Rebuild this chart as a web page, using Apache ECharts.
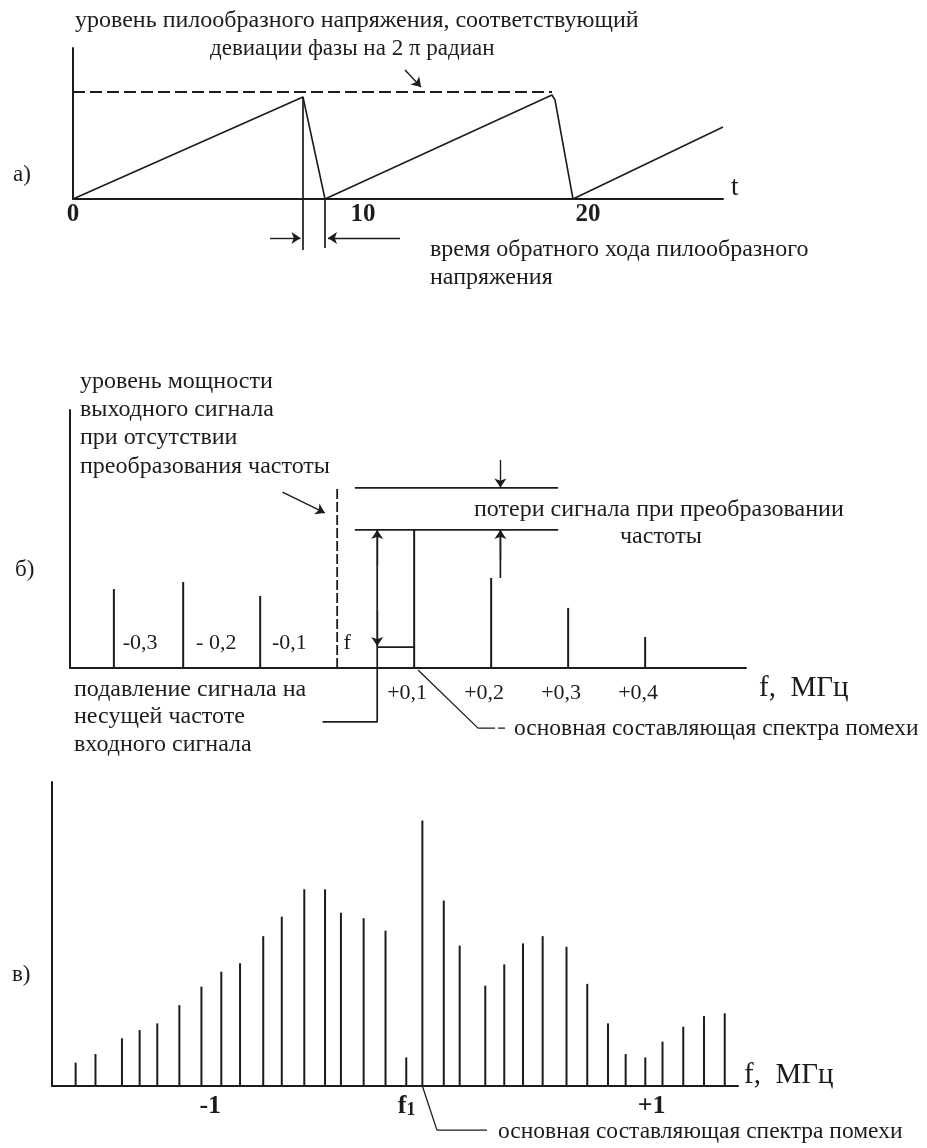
<!DOCTYPE html>
<html><head><meta charset="utf-8">
<script src="https://cdn.jsdelivr.net/npm/echarts@6/dist/echarts.min.js"></script>
<style>html,body{margin:0;padding:0;background:#fff}#c{width:927px;height:1148px}</style>
</head><body><div id="c"></div>
<script>
// ---- Panel а: sawtooth (t, level relative to 2π deviation) ----
const sawT = [0, 9.2, 10.08, 19.16, 19.28, 20.0, 26];
const sawV = [0, 0.953, 0, 0.972, 0.925, 0, 0.673];
const levelA = 1.0;
const tickA = ['0', '10', '20'];
const tickAPos = [0, 11.6, 20.6];

// ---- Panel б: spectrum with conversion (MHz offset, relative power) ----
const specBx = [-0.29, -0.2, -0.1, 0.1, 0.2, 0.3, 0.4];
const specBy = [0.306, 0.333, 0.279, 0.535, 0.349, 0.233, 0.120];
const refB = 0.698;      // output power without frequency conversion
const carrierB = 0.081;  // suppressed carrier level
const tickB = ['+0,1', '+0,2', '+0,3', '+0,4'];
const tickBPos = [0.1, 0.2, 0.3, 0.4];
const innerB = ['-0,3', '- 0,2', '-0,1', 'f'];
const innerBPos = [-0.256, -0.157, -0.062, 0.013];

// ---- Panel в: interference spectrum (MHz, relative power) ----
const specCx = [-1.61, -1.52, -1.40, -1.32, -1.24, -1.14, -1.04, -0.95, -0.865, -0.76, -0.676,
  -0.574, -0.48, -0.408, -0.305, -0.206, -0.112, -0.039, 0.058, 0.13, 0.246, 0.332, 0.417,
  0.506, 0.614, 0.708, 0.802, 0.882, 0.971, 1.049, 1.143, 1.237, 1.331];
const specCy = [0.077, 0.105, 0.157, 0.184, 0.206, 0.266, 0.327, 0.376, 0.404, 0.493, 0.557,
  0.647, 0.647, 0.570, 0.552, 0.511, 0.094, 0.873, 0.610, 0.462, 0.330, 0.400, 0.469,
  0.493, 0.458, 0.336, 0.206, 0.105, 0.094, 0.146, 0.195, 0.230, 0.239];
const tickC = ['-1', 'f1', '+1'];
const tickCPos = [-1, -0.11, 1];

const INK = '#1c1c1c';
const FONT = '"Liberation Serif", "DejaVu Serif", serif';

// annotation geometry (in each panel's data units)
const annA = {
  vLeft:  [[9.2, 0.953], [9.2, -0.477]],
  vRight: [[10.08, 0], [10.08, -0.458]],
  arrL:   [[7.88, -0.364], [9.1, -0.364]],
  arrR:   [[13.08, -0.364], [10.2, -0.364]],
  arrLvl: [[13.28, 1.206], [13.92, 1.047]]
};
const annB = {
  topH:   [[0.023, refB], [0.287, refB]],
  lowH:   [[0.023, 0.535], [0.287, 0.535]],
  dimSup: [[0.052, 0.535], [0.052, -0.209], [-0.019, -0.209]],
  stub:   [[0.052, carrierB], [0.1, carrierB]],
  leader: [[0.105, -0.008], [0.183, -0.233], [0.205, -0.233]],
  dash:   [[0.209, -0.233], [0.218, -0.233]],
  lossSeg:[[0.212, 0.535], [0.212, 0.349]],
  arrows: [
    [[0.052, 0.40], [0.052, 0.535]],
    [[0.052, 0.22], [0.052, 0.085]],
    [[0.212, 0.806], [0.212, 0.700]],
    [[0.212, 0.42], [0.212, 0.535]],
    [[-0.071, 0.682], [-0.016, 0.601]]
  ]
};
const annC = {
  leader: [[-0.039, 0], [0.027, -0.145], [0.254, -0.145]]
};

function seg(pts, gi, opts) {
  return Object.assign({
    type: 'line', xAxisIndex: gi, yAxisIndex: gi, data: pts, symbol: 'none',
    clip: false, silent: true, animation: false,
    lineStyle: { color: INK, width: 1.7 }
  }, opts || {});
}
function arrows(list, gi) {
  return {
    type: 'lines', coordinateSystem: 'cartesian2d', xAxisIndex: gi, yAxisIndex: gi,
    clip: false, silent: true, animation: false,
    symbol: ['none', 'arrow'], symbolSize: 9,
    lineStyle: { color: INK, width: 1.4, opacity: 1 },
    data: list.map(c => ({ coords: c }))
  };
}
function xAx(gi, min, max, pos, labels, lbl) {
  return {
    type: 'value', gridIndex: gi, min: min, max: max,
    axisLine: { show: true, onZero: false, lineStyle: { color: INK, width: 2 } },
    axisTick: { show: false }, splitLine: { show: false },
    axisLabel: Object.assign({
      show: true, customValues: pos, color: INK, fontFamily: FONT,
      formatter: v => { const i = pos.findIndex(p => Math.abs(p - v) < 1e-6); return i >= 0 ? labels[i] : ''; }
    }, lbl)
  };
}
function yAx(gi, max) {
  return {
    type: 'value', gridIndex: gi, min: 0, max: max,
    axisLine: { show: true, onZero: false, lineStyle: { color: INK, width: 2 } },
    axisTick: { show: false }, splitLine: { show: false }, axisLabel: { show: false }
  };
}

const texts = [
  ['уровень пилообразного напряжения, соответствующий', 75, 21, 24],
  ['девиации фазы на 2 π радиан', 210, 49, 23],
  ['а)', 13, 175, 23],
  ['t', 731, 188, 27],
  ['время обратного хода пилообразного', 430, 250, 24],
  ['напряжения', 430, 278, 24],
  ['уровень мощности', 80, 382, 24],
  ['выходного сигнала', 80, 410, 24],
  ['при отсутствии', 80, 438, 24],
  ['преобразования частоты', 80, 467, 24],
  ['потери сигнала при преобразовании', 474, 510, 24],
  ['частоты', 620, 537, 24],
  ['б)', 15, 570, 23],
  ['f,  МГц', 759, 688, 29],
  ['подавление сигнала на', 74, 690, 24],
  ['несущей частоте', 74, 717, 24],
  ['входного сигнала', 74, 745, 24],
  ['основная составляющая спектра помехи', 514, 729, 23.5],
  ['в)', 12, 975, 23],
  ['f,  МГц', 744, 1075, 29],
  ['основная составляющая спектра помехи', 498, 1132, 23.5]
];

const chart = echarts.init(document.getElementById('c'), null, { renderer: 'canvas' });
const series = [
  seg(sawT.map((t, i) => [t, sawV[i]]), 0, { lineStyle: { color: INK, width: 1.6 } }),
  seg([[0, levelA], [sawT[3], levelA]], 0, { lineStyle: { color: INK, width: 2, type: [12, 5] } }),
  seg(annA.vLeft, 0), seg(annA.vRight, 0),
  arrows([annA.arrL, annA.arrR, annA.arrLvl], 0),

  { type: 'bar', xAxisIndex: 1, yAxisIndex: 1, barWidth: 2, silent: true, animation: false,
    itemStyle: { color: INK }, data: specBx.map((x, i) => [x, specBy[i]]) },
  seg([[0, 0], [0, refB]], 1, { lineStyle: { color: INK, width: 1.8, type: [10, 3] } }),
  seg(annB.topH, 1), seg(annB.lowH, 1), seg(annB.dimSup, 1), seg(annB.stub, 1),
  seg(annB.leader, 1, { lineStyle: { color: INK, width: 1.3 } }),
  seg(annB.dash, 1, { lineStyle: { color: INK, width: 1.3 } }),
  seg(annB.lossSeg, 1),
  arrows(annB.arrows, 1),
  { type: 'scatter', xAxisIndex: 1, yAxisIndex: 1, symbolSize: 1, silent: true, animation: false,
    itemStyle: { color: 'rgba(0,0,0,0)', opacity: 1 },
    data: innerBPos.map((x, i) => ({ value: [x, 0.097], name: innerB[i] })),
    label: { show: true, position: 'inside', formatter: p => p.name, color: INK,
      fontFamily: FONT, fontSize: 22, opacity: 1 } },

  { type: 'bar', xAxisIndex: 2, yAxisIndex: 2, barWidth: 2, silent: true, animation: false,
    itemStyle: { color: INK }, data: specCx.map((x, i) => [x, specCy[i]]) },
  seg(annC.leader, 2, { lineStyle: { color: INK, width: 1.3 } })
];

chart.setOption({
  backgroundColor: '#ffffff',
  animation: false,
  grid: [
    { left: 73, top: 48, width: 650, height: 151 },
    { left: 70, top: 410, width: 676, height: 258 },
    { left: 52, top: 782, width: 686, height: 304 }
  ],
  xAxis: [
    xAx(0, 0, 26, tickAPos, tickA, { fontSize: 25, fontWeight: 'bold', margin: 3 }),
    xAx(1, -0.347, 0.531, tickBPos, tickB, { fontSize: 22, margin: 14, padding: [0, 14, 0, 0] }),
    xAx(2, -1.717, 1.391, tickCPos, tickC, {
      fontSize: 26, fontWeight: 'bold', margin: 7,
      formatter: v => {
        const i = tickCPos.findIndex(p => Math.abs(p - v) < 1e-6);
        if (i < 0) return '';
        const s = tickC[i];
        return s === 'f1' ? '{f|f}{s|1}' : s;
      },
      rich: { f: { fontSize: 26, fontWeight: 'bold', fontFamily: FONT, color: INK },
              s: { fontSize: 18, fontWeight: 'bold', fontFamily: FONT, color: INK, padding: [8, 0, 0, 0] } }
    })
  ],
  yAxis: [yAx(0, 1.411), yAx(1, 1), yAx(2, 1)],
  series: series,
  graphic: texts.map(t => ({
    type: 'text', x: t[1], y: t[2], silent: true,
    style: { text: t[0], fontSize: t[3], fontFamily: FONT, fill: INK, align: 'left', verticalAlign: 'middle' }
  }))
});
</script></body></html>
